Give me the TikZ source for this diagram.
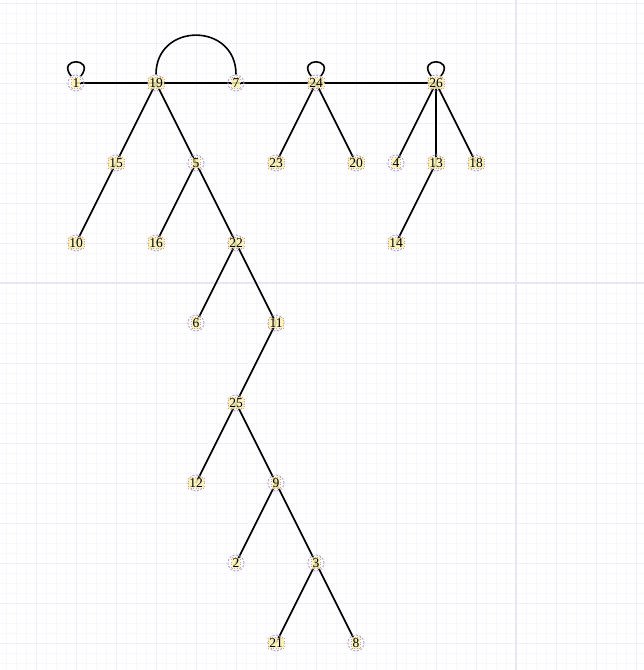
\documentclass[tikz,border=0pt]{standalone}
\usepackage{fontspec}
\setmainfont{Liberation Serif}
\pgfdeclarelayer{background}
\pgfdeclarelayer{grid}
\pgfsetlayers{grid,background,main}
\definecolor{gridminor}{HTML}{F7F7FD}
\definecolor{gridmid}{HTML}{F0F0FA}
\definecolor{gridmajor}{HTML}{E6E6F4}
\definecolor{ringcol}{HTML}{AAAAE2}
\definecolor{tagfill}{HTML}{FBF3B4}
\definecolor{tagline}{HTML}{E8A070}
\tikzset{
  vert/.style={circle, draw=ringcol, dashed, dash pattern=on 2pt off 1.5pt, line width=1pt, minimum size=16pt, inner sep=0pt},
  tagbox/.style={rectangle, fill=tagfill, fill opacity=0.85, text opacity=1, draw=tagline, dotted, line width=0.5pt, inner sep=1pt, font=\fontsize{13.5}{14}\selectfont},
  link/.style={line width=1.6pt, black}
}
\begin{document}
\begin{tikzpicture}[x=1pt, y=-1pt]
    \useasboundingbox (0,0) rectangle (644,670);

    % 背景网格
    \begin{pgfonlayer}{grid}
    \fill[white] (0,0) rectangle (644,670);
    \foreach \gx in {6,16,...,644} \draw[gridminor, line width=1pt] (\gx,0) -- (\gx,670);
    \foreach \gy in {3,13,...,670} \draw[gridminor, line width=1pt] (0,\gy) -- (644,\gy);
    \foreach \gx in {36,76,...,644} \draw[gridmid, line width=1pt] (\gx,0) -- (\gx,670);
    \foreach \gy in {3,43,...,670} \draw[gridmid, line width=1pt] (0,\gy) -- (644,\gy);
    \draw[gridmajor, line width=1.2pt] (516,0) -- (516,670);
    \draw[gridmajor, line width=1.2pt] (0,283) -- (644,283);
    \end{pgfonlayer}

    % 第一层
    \node[vert, label={[tagbox]center:1}] (n1) at (76,83) {};
    \node[vert, label={[tagbox]center:19}] (n19) at (156,83) {};
    \node[vert, label={[tagbox]center:7}] (n7) at (236,83) {};
    \node[vert, label={[tagbox]center:24}] (n24) at (316,83) {};
    \node[vert, label={[tagbox]center:26}] (n26) at (436,83) {};

    % 第二层
    \node[vert, label={[tagbox]center:15}] (n15) at (116,163) {};
    \node[vert, label={[tagbox]center:5}] (n5) at (196,163) {};
    \node[vert, label={[tagbox]center:23}] (n23) at (276,163) {};
    \node[vert, label={[tagbox]center:20}] (n20) at (356,163) {};
    \node[vert, label={[tagbox]center:4}] (n4) at (396,163) {};
    \node[vert, label={[tagbox]center:13}] (n13) at (436,163) {};
    \node[vert, label={[tagbox]center:18}] (n18) at (476,163) {};

    % 第三层
    \node[vert, label={[tagbox]center:10}] (n10) at (76,243) {};
    \node[vert, label={[tagbox]center:16}] (n16) at (156,243) {};
    \node[vert, label={[tagbox]center:22}] (n22) at (236,243) {};
    \node[vert, label={[tagbox]center:14}] (n14) at (396,243) {};

    % 下面的链
    \node[vert, label={[tagbox]center:6}] (n6) at (196,323) {};
    \node[vert, label={[tagbox]center:11}] (n11) at (276,323) {};
    \node[vert, label={[tagbox]center:25}] (n25) at (236,403) {};
    \node[vert, label={[tagbox]center:12}] (n12) at (196,483) {};
    \node[vert, label={[tagbox]center:9}] (n9) at (276,483) {};
    \node[vert, label={[tagbox]center:2}] (n2) at (236,563) {};
    \node[vert, label={[tagbox]center:3}] (n3) at (316,563) {};
    \node[vert, label={[tagbox]center:21}] (n21) at (276,643) {};
    \node[vert, label={[tagbox]center:8}] (n8) at (356,643) {};

    % 边
    \begin{pgfonlayer}{background}
    \draw[link] (n1.center) -- (n19.center) -- (n7.center) -- (n24.center) -- (n26.center);
    \foreach \a/\b in {19/15, 19/5, 15/10, 5/16, 5/22, 22/6, 22/11, 11/25, 25/12, 25/9,
                       9/2, 9/3, 3/21, 3/8, 24/23, 24/20, 26/4, 26/13, 26/18, 13/14}
        \draw[link] (n\a.center) -- (n\b.center);
    % 自环和19到7的弧
    \foreach \v in {1,24,26}
        \draw[link] (n\v.125) .. controls +(-15,-19) and +(15,-19) .. (n\v.55);
    \draw[link] (n19.north) .. controls (156,22) and (236,22) .. (n7.north);
    \end{pgfonlayer}
\end{tikzpicture}
\end{document}
